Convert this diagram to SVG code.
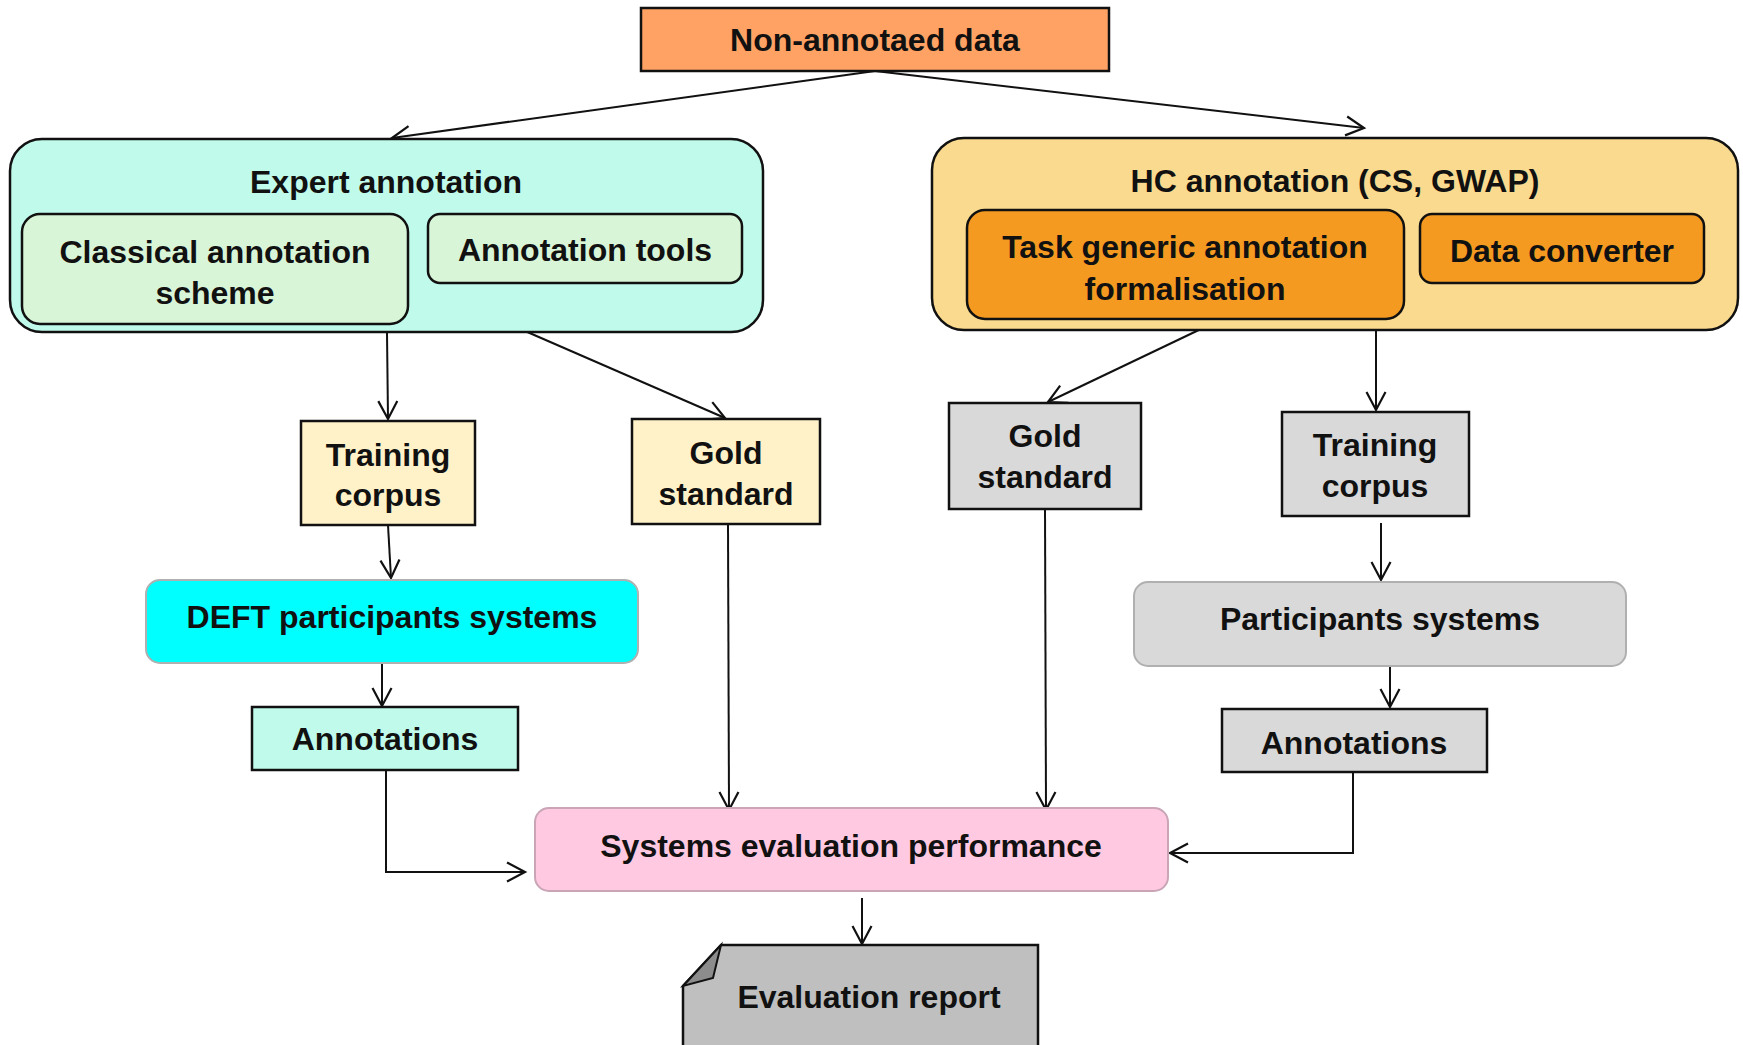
<svg xmlns="http://www.w3.org/2000/svg" width="1743" height="1045" viewBox="0 0 1743 1045">
<style>
  text { font-family: "Liberation Sans", Arial, sans-serif; font-size: 32px; font-weight: bold; fill: #111; text-anchor: middle; }
  .box { stroke: #111; stroke-width: 2.5; }
  .soft { stroke: #b0b0b0; stroke-width: 2; }
  .conn { fill: none; stroke: #111; stroke-width: 2; marker-end: url(#arr); }
</style>
<defs>
  <marker id="arr" markerUnits="userSpaceOnUse" markerWidth="24" markerHeight="24" viewBox="0 0 24 24" refX="21" refY="12" orient="auto">
    <path d="M3,2.5 L21,12 L3,21.5" fill="none" stroke="#111" stroke-width="2.2"/>
  </marker>
</defs>
<rect width="1743" height="1045" fill="#fff"/>

<g id="connectors">
  <path class="conn" d="M875,71 L392,138"/>
  <path class="conn" d="M875,71 L1364,128"/>
  <path class="conn" d="M387,333 L388,419"/>
  <path class="conn" d="M525,331 L725,418"/>
  <path class="conn" d="M1203,328 L1048,402"/>
  <path class="conn" d="M1376,330 L1376,410"/>
  <path class="conn" d="M388,525 L391,578"/>
  <path class="conn" d="M382,660 L382,706"/>
  <path class="conn" d="M386,771 L386,872 L525,872"/>
  <path class="conn" d="M728,524 L729,810"/>
  <path class="conn" d="M1045,509 L1046,810"/>
  <path class="conn" d="M1381,523 L1381,580"/>
  <path class="conn" d="M1390,660 L1390,707"/>
  <path class="conn" d="M1353,772 L1353,853 L1170,853"/>
  <path class="conn" d="M862,898 L862,944"/>
</g>

<g id="non-annotated">
  <rect class="box" x="641" y="8" width="468" height="63" fill="#FFA264"/>
  <text x="875" y="51">Non-annotaed data</text>
</g>

<g id="expert-annotation">
  <rect class="box" x="10" y="139" width="753" height="193" rx="32" fill="#C0FAEA"/>
  <text x="386" y="193">Expert annotation</text>
</g>
<g id="classical-scheme">
  <rect class="box" x="22" y="214" width="386" height="110" rx="18" fill="#D9F5D7"/>
  <text x="215" y="263">Classical annotation</text>
  <text x="215" y="304">scheme</text>
</g>
<g id="annotation-tools">
  <rect class="box" x="428" y="214" width="314" height="69" rx="12" fill="#D9F5D7"/>
  <text x="585" y="261">Annotation tools</text>
</g>

<g id="hc-annotation">
  <rect class="box" x="932" y="138" width="806" height="192" rx="32" fill="#FADA8E"/>
  <text x="1335" y="192">HC annotation (CS, GWAP)</text>
</g>
<g id="task-generic">
  <rect class="box" x="967" y="210" width="437" height="109" rx="18" fill="#F49A21"/>
  <text x="1185" y="258">Task generic annotation</text>
  <text x="1185" y="300">formalisation</text>
</g>
<g id="data-converter">
  <rect class="box" x="1420" y="214" width="284" height="69" rx="12" fill="#F49A21"/>
  <text x="1562" y="262">Data converter</text>
</g>

<g id="training-left">
  <rect class="box" x="301" y="421" width="174" height="104" fill="#FFF2C9"/>
  <text x="388" y="466">Training</text>
  <text x="388" y="506">corpus</text>
</g>
<g id="gold-left">
  <rect class="box" x="632" y="419" width="188" height="105" fill="#FFF2C9"/>
  <text x="726" y="464">Gold</text>
  <text x="726" y="505">standard</text>
</g>
<g id="gold-right">
  <rect class="box" x="949" y="403" width="192" height="106" fill="#D9D9D9"/>
  <text x="1045" y="447">Gold</text>
  <text x="1045" y="488">standard</text>
</g>
<g id="training-right">
  <rect class="box" x="1282" y="412" width="187" height="104" fill="#D9D9D9"/>
  <text x="1375" y="456">Training</text>
  <text x="1375" y="497">corpus</text>
</g>

<g id="deft-systems">
  <rect class="soft" x="146" y="580" width="492" height="83" rx="14" fill="#00FFFF"/>
  <text x="392" y="628">DEFT participants systems</text>
</g>
<g id="participants-systems">
  <rect class="soft" x="1134" y="582" width="492" height="84" rx="14" fill="#D9D9D9"/>
  <text x="1380" y="630">Participants systems</text>
</g>

<g id="annotations-left">
  <rect class="box" x="252" y="707" width="266" height="63" fill="#C0FAEA"/>
  <text x="385" y="750">Annotations</text>
</g>
<g id="annotations-right">
  <rect class="box" x="1222" y="709" width="265" height="63" fill="#D9D9D9"/>
  <text x="1354" y="754">Annotations</text>
</g>

<g id="systems-evaluation">
  <rect x="535" y="808" width="633" height="83" rx="14" fill="#FFC9E2" stroke="#C9A5B5" stroke-width="2"/>
  <text x="851" y="857">Systems evaluation performance</text>
</g>

<g id="evaluation-report">
  <path class="box" d="M721,945 L1038,945 L1038,1050 L683,1050 L683,986 Z" fill="#BFBFBF"/>
  <path d="M721,945 L713,978 L683,986 Z" fill="#8C8C8C" stroke="#111" stroke-width="2"/>
  <text x="869" y="1008">Evaluation report</text>
</g>
</svg>
